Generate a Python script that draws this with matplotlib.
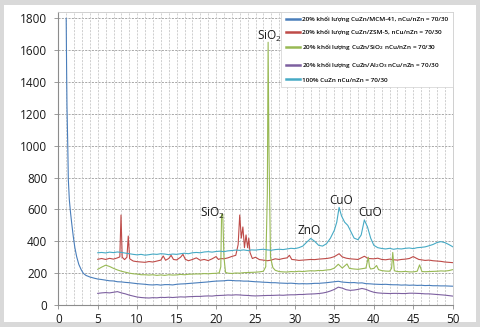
import matplotlib
matplotlib.use("Agg")
import matplotlib.pyplot as plt
from matplotlib.patches import Rectangle

plt.rcParams['font.family'] = ['Open Sans', 'DejaVu Sans']
plt.rcParams['mathtext.default'] = 'regular'

# ---- data: (2theta, intensity) pairs ----
mcm = [(1.0, 1800), (1.05, 1500), (1.1, 1250), (1.2, 1000), (1.27, 790), (1.4, 660), (1.55, 580),
       (1.7, 513), (1.9, 430), (2.1, 360), (2.33, 303), (2.6, 255), (2.9, 222), (3.17, 199),
       (3.5, 186), (4.0, 176), (4.5, 169), (5, 163), (5.5, 160), (6, 156), (6.5, 152), (7, 151),
       (7.5, 146), (8, 145), (8.5, 142), (9, 140), (9.5, 137), (10, 134), (10.5, 132), (11, 130),
       (11.5, 127), (12, 126), (12.5, 128), (13, 125), (13.5, 128), (14, 128), (14.5, 126),
       (15, 130), (15.5, 132), (16, 133), (16.5, 135), (17, 137), (17.5, 139), (18, 141),
       (18.5, 143), (19, 145), (19.5, 148), (20, 150), (20.5, 151), (21, 152), (21.5, 155),
       (22, 154), (22.5, 152), (23, 152), (23.5, 150), (24, 150), (24.5, 148), (25, 146),
       (25.5, 145), (26, 143), (26.5, 142), (27, 140), (27.5, 140), (28, 138), (28.5, 137),
       (29, 136), (29.5, 137), (30, 135), (30.5, 133), (31, 134), (31.5, 133), (32, 134),
       (32.5, 136), (33, 136), (33.5, 138), (34, 140), (34.5, 143), (35, 146), (35.5, 149),
       (36, 144), (36.5, 142), (37, 140), (37.5, 141), (38, 138), (38.5, 139), (39, 134),
       (39.5, 133), (40, 131), (40.5, 130), (41, 129), (41.5, 130), (42, 128), (42.5, 127),
       (43, 127), (43.5, 125), (44, 126), (44.5, 124), (45, 125), (45.5, 123), (46, 124),
       (46.5, 122), (47, 123), (47.5, 121), (48, 121), (48.5, 120), (49, 120), (49.5, 119),
       (50, 118)]

zsm = [(5, 287), (5.5, 292), (6, 286), (6.5, 293), (7, 288), (7.5, 296), (7.8, 302), (7.95, 565),
       (8.1, 300), (8.4, 285), (8.7, 300), (8.87, 433), (9.05, 290), (9.5, 276), (10, 272),
       (10.5, 270), (11, 268), (11.5, 273), (12, 270), (12.5, 276), (13, 282), (13.3, 308),
       (13.6, 281), (14, 292), (14.3, 312), (14.6, 286), (15, 283), (15.5, 300), (15.8, 318),
       (16.1, 287), (16.5, 278), (17, 286), (17.5, 296), (18, 281), (18.5, 286), (19, 279),
       (19.5, 290), (20, 304), (20.3, 286), (20.6, 292), (21, 290), (21.5, 296), (22, 305),
       (22.5, 312), (22.8, 380), (23.0, 565), (23.2, 420), (23.4, 490), (23.6, 360), (23.8, 440),
       (24.0, 360), (24.15, 420), (24.3, 330), (24.6, 292), (25, 300), (25.5, 285), (26, 282),
       (26.5, 278), (27, 282), (27.5, 290), (28, 286), (28.5, 292), (29, 296), (29.3, 312),
       (29.6, 286), (30, 284), (30.5, 280), (31, 282), (31.5, 284), (32, 286), (32.5, 285),
       (33, 288), (33.5, 290), (34, 292), (34.5, 296), (35, 304), (35.6, 322), (36, 302),
       (36.5, 294), (37, 290), (37.5, 288), (38, 286), (38.8, 306), (39.3, 292), (40, 290),
       (40.5, 294), (41, 286), (41.5, 284), (42, 288), (42.5, 284), (43, 282), (43.5, 286),
       (44, 288), (44.5, 292), (45, 304), (45.3, 296), (45.7, 286), (46, 284), (46.5, 280),
       (47, 282), (47.5, 278), (48, 276), (48.5, 274), (49, 270), (49.5, 268), (50, 266)]

sio2 = [(5, 224), (5.5, 238), (6, 250), (6.5, 242), (7, 230), (7.5, 220), (8, 212), (8.5, 206),
        (9, 200), (9.5, 196), (10, 194), (10.5, 190), (11, 190), (11.5, 188), (12, 190),
        (12.5, 186), (13, 189), (13.5, 186), (14, 190), (14.5, 188), (15, 189), (15.5, 192),
        (16, 190), (16.5, 193), (17, 194), (17.5, 195), (18, 195), (18.5, 197), (19, 196),
        (19.5, 198), (20, 199), (20.4, 202), (20.6, 240), (20.7, 570), (20.85, 570), (21.0, 300),
        (21.2, 205), (21.5, 200), (22, 198), (22.5, 201), (23, 200), (23.5, 203), (24, 204),
        (24.5, 205), (25, 206), (25.5, 208), (26, 212), (26.3, 240), (26.5, 700), (26.6, 1650),
        (26.7, 1000), (26.9, 300), (27.2, 235), (27.5, 218), (28, 210), (28.5, 208), (29, 207),
        (29.5, 210), (30, 209), (30.5, 212), (31, 210), (31.5, 213), (32, 215), (32.5, 214),
        (33, 217), (33.5, 216), (34, 220), (34.5, 222), (35, 232), (35.5, 256), (36, 232),
        (36.3, 245), (36.6, 258), (36.9, 230), (37.5, 226), (38, 224), (38.5, 228), (39, 232),
        (39.3, 300), (39.45, 240), (39.6, 226), (40, 230), (40.35, 248), (40.6, 222), (41, 216),
        (41.5, 213), (42, 212), (42.25, 230), (42.4, 330), (42.6, 215), (43, 210), (43.5, 209),
        (44, 211), (44.5, 208), (45, 208), (45.5, 212), (45.8, 252), (46.1, 210), (46.5, 209),
        (47, 210), (47.5, 211), (48, 212), (48.5, 214), (49, 213), (49.5, 216), (50, 222)]

al2o3 = [(5, 73), (5.5, 76), (6, 78), (6.5, 76), (7, 80), (7.5, 84), (8, 76), (8.5, 70), (9, 62),
         (9.5, 56), (10, 50), (10.5, 47), (11, 45), (11.5, 44), (12, 46), (12.5, 45), (13, 48),
         (13.5, 47), (14, 49), (14.5, 47), (15, 49), (15.5, 51), (16, 50), (16.5, 52), (17, 53),
         (17.5, 54), (18, 54), (18.5, 56), (19, 57), (19.5, 56), (20, 59), (20.5, 60), (21, 61),
         (21.5, 63), (22, 62), (22.5, 64), (23, 63), (23.5, 61), (24, 60), (24.5, 58), (25, 57),
         (25.5, 58), (26, 59), (26.5, 60), (27, 60), (27.5, 61), (28, 62), (28.5, 61), (29, 63),
         (29.5, 64), (30, 64), (30.5, 66), (31, 66), (31.5, 68), (32, 69), (32.5, 70), (33, 72),
         (33.5, 75), (34, 80), (34.5, 88), (35, 98), (35.5, 112), (36, 106), (36.5, 96),
         (37, 92), (37.5, 94), (38, 98), (38.5, 104), (39, 98), (39.5, 88), (40, 80), (40.5, 76),
         (41, 74), (41.5, 73), (42, 72), (42.5, 73), (43, 73), (43.5, 72), (44, 72), (44.5, 74),
         (45, 74), (45.5, 73), (46, 72), (46.5, 70), (47, 70), (47.5, 68), (48, 66), (48.5, 64),
         (49, 62), (49.5, 59), (50, 56)]

cuzn = [(5, 328), (5.5, 330), (6, 327), (6.5, 332), (7, 329), (7.5, 333), (8, 330), (8.5, 326),
        (9, 322), (9.5, 318), (10, 315), (10.5, 318), (11, 313), (11.5, 316), (12, 320),
        (12.5, 318), (13, 322), (13.5, 320), (14, 316), (14.5, 320), (15, 318), (15.5, 322),
        (16, 325), (16.5, 322), (17, 328), (17.5, 330), (18, 328), (18.5, 333), (19, 335),
        (19.5, 332), (20, 336), (20.5, 338), (21, 335), (21.5, 340), (22, 342), (22.5, 345),
        (23, 343), (23.5, 346), (24, 342), (24.5, 346), (25, 345), (25.5, 348), (26, 350),
        (26.5, 346), (27, 344), (27.5, 348), (28, 350), (28.5, 348), (29, 352), (29.5, 356),
        (30, 354), (30.5, 360), (31, 370), (31.5, 395), (32, 418), (32.5, 400), (33, 375),
        (33.5, 370), (34, 385), (34.5, 420), (35, 470), (35.3, 520), (35.6, 613), (35.9, 560),
        (36.3, 520), (36.7, 500), (37, 470), (37.5, 420), (38, 410), (38.4, 440), (38.8, 534),
        (39.2, 490), (39.6, 420), (40, 375), (40.5, 360), (41, 355), (41.5, 352), (42, 356),
        (42.5, 350), (43, 354), (43.5, 352), (44, 356), (44.5, 358), (45, 354), (45.5, 360),
        (46, 362), (46.5, 365), (47, 372), (47.5, 380), (48, 392), (48.5, 398), (49, 392),
        (49.5, 380), (50, 366)]

ticks_x = [0, 5, 10, 15, 20, 25, 30, 35, 40, 45, 50]
ticks_y = [0, 200, 400, 600, 800, 1000, 1200, 1400, 1600, 1800]

labels = ["20% khối lượng CuZn/MCM-41, nCu/nZn = 70/30",
          "20% khối lượng CuZn/ZSM-5, nCu/nZn = 70/30",
          "20% khối lượng CuZn/SiO$_2$ nCu/nZn = 70/30",
          "20% khối lượng CuZn/Al$_2$O$_3$ nCu/nZn = 70/30",
          "100% CuZn nCu/nZn = 70/30"]
colors = ['#4a7ebb', '#be4b48', '#98b954', '#7d60a0', '#46aac5']

peak_text = ["SiO$_2$", "SiO$_2$", "ZnO", "CuO", "CuO"]
peak_x = [19.6, 26.8, 31.8, 35.8, 39.5]
peak_y = [578, 1685, 470, 655, 580]

# ---- figure ----
fig = plt.figure(figsize=(4.8, 3.27), dpi=100, facecolor='#d9d9d9')
bg = Rectangle((4/480, 5/327), 472/480, 317/327, transform=fig.transFigure,
               facecolor='white', edgecolor='none', zorder=-10)
fig.patches.append(bg)
ax = fig.add_axes([58.3/480, 1 - 305/327, (452.7 - 58.3)/480, (305 - 12)/327])
ax.set_facecolor('white')
ax.set_zorder(1)

series = [mcm, zsm, sio2, al2o3, cuzn]
for pts, c, lab in zip(series, colors, labels):
    xs = [p[0] for p in pts]
    ys = [p[1] for p in pts]
    ax.plot(xs, ys, color=c, lw=0.8, label=lab, zorder=3)

for t, x, y in zip(peak_text, peak_x, peak_y):
    ax.text(x, y, t, ha='center', va='center', fontsize=8.5, color='#1a1a1a', zorder=4)

ax.set_xlim(0, 50)
ax.set_ylim(0, 1840)
ax.set_xticks(ticks_x)
ax.set_yticks(ticks_y)
ax.tick_params(axis='both', which='major', labelsize=8.5, labelcolor='#1a1a1a', length=3,
               color='#8c8c8c', width=0.6)
ax.tick_params(axis='y', pad=5)
ax.tick_params(axis='x', pad=3)

# grid lines drawn as reference lines at the tick positions
for yv in ticks_y[1:]:
    ax.axhline(yv, color='#9a9a9a', linestyle=(0, (2.5, 1.5)), lw=0.6, zorder=1)
for xv in range(1, 50):
    ax.axvline(xv, color='#c8c8c8', linestyle=(0, (2.5, 1.5)), lw=0.6, zorder=1)

for s in ['left', 'bottom']:
    ax.spines[s].set_color('#8c8c8c')
    ax.spines[s].set_linewidth(0.8)
for s in ['top', 'right']:
    ax.spines[s].set_color('#c8c8c8')
    ax.spines[s].set_linewidth(0.6)

leg = ax.legend(loc='upper right', frameon=True, fancybox=False,
                edgecolor='#d0d0d0', facecolor='white', framealpha=1, borderaxespad=0.0,
                handlelength=2.2, handletextpad=0.3, labelspacing=1.15, borderpad=0.75,
                prop={'family': ['Open Sans', 'DejaVu Sans'], 'size': 4.6, 'weight': 'semibold'})
leg.get_frame().set_linewidth(0.5)
leg.set_zorder(5)
for ln in leg.get_lines():
    ln.set_linewidth(1.8)

fig.savefig('out.png', dpi=100, facecolor=fig.get_facecolor())
